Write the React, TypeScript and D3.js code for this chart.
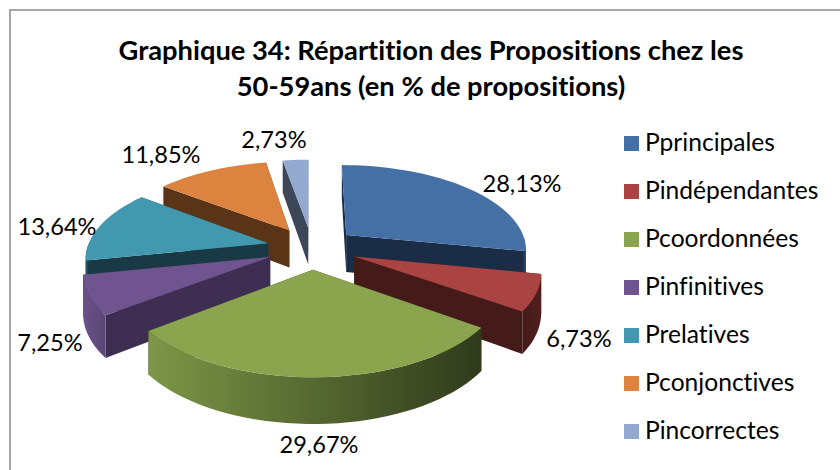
import React from "react";
import * as d3 from "d3";

const categories = ["Pprincipales","Pindépendantes","Pcoordonnées","Pinfinitives","Prelatives","Pconjonctives","Pincorrectes"];
const values = [28.13,6.73,29.67,7.25,13.64,11.85,2.73];
const titleLines = ["Graphique 34: Répartition des Propositions chez les","50-59ans (en % de propositions)"];

const topColors = ["#4470a6","#a94442","#8aa54d","#6f548f","#4298af","#dc8340","#93a9cf"];
const faceColors = ["#1b2d46","#451b1a","#35401e","#3e2f52","#193a45","#5a3417","#3c4759"];
const wallLeft = ["#2b4a70","#451b1a","#7d9647","#6a5288","#2a6272","#8a5226","#5d6c85"];
const wallRight = ["#1b2d46","#4f1f1d","#2f3a1b","#5a4675","#193a45","#5a3417","#3c4759"];
const labelAnchors: [number,number][] = [[522,192],[579,347],[319,453],[50,351],[57,235],[161,163],[274,148]];

const cx = 312, cy = 248, R = 181, A = 84, P = 0.15, EXPLODE = 0.25, H = 38, ROT = 0;

function project(X: number, Y: number, z: number): [number, number] {
  const f = 1 / (1 - P * Y);
  return [cx + R * X * f, cy + A * Y * f + z * H * f];
}

export default function App() {
  const arcs = d3.pie<number>().sort(null).startAngle(ROT).endAngle(ROT + 2 * Math.PI)(values);
  const line = d3.line();
  const slices = arcs.map((a, i) => {
    const mid = (a.startAngle + a.endAngle) / 2;
    const ox = EXPLODE * Math.sin(mid), oy = -EXPLODE * Math.cos(mid);
    const angles = d3.range(0, 41).map(k => a.startAngle + (a.endAngle - a.startAngle) * k / 40);
    const pts = angles.map(t => [ox + Math.sin(t), oy - Math.cos(t)] as [number, number]);
    const apexTop = project(ox, oy, 0), apexBot = project(ox, oy, 1);
    const topRim = pts.map(p => project(p[0], p[1], 0));
    const botRim = pts.map(p => project(p[0], p[1], 1));
    const front = d3.range(0, 41).filter(k => Math.cos(angles[k]) <= 0);
    return { i, oy, apexTop, apexBot, topRim, botRim, front };
  });
  const order = [...slices].sort((a, b) => d3.ascending(a.oy, b.oy));
  return (
    <svg width={840} height={470} style={{ position: "absolute", left: 0, top: 0, background: "#fff", fontVariantLigatures: "none" }} fontFamily="Lato, Carlito, sans-serif">
      <defs>
        {slices.map(s => (
          <linearGradient key={s.i} id={`wall${s.i}`} x1="0" x2="1" y1="0" y2="0">
            <stop offset="0" stopColor={wallLeft[s.i]} />
            <stop offset="1" stopColor={wallRight[s.i]} />
          </linearGradient>
        ))}
      </defs>
      <rect x={10} y={10} width={840} height={500} fill="#fff" stroke="#a6a6a6" strokeWidth={2} />
      {titleLines.map((t, i) => (
        <text key={i} x={431} y={60 + i * 36} textAnchor="middle" fontSize={27.3} fontWeight={700} fill="#000">{t}</text>
      ))}
      {order.map(s => {
        const { i } = s;
        const faceA = [s.apexTop, s.topRim[0], s.botRim[0], s.apexBot] as [number, number][];
        const faceB = [s.apexTop, s.topRim[40], s.botRim[40], s.apexBot] as [number, number][];
        const wall = [...s.front.map(k => s.topRim[k]), ...[...s.front].reverse().map(k => s.botRim[k])];
        const top = [s.apexTop, ...s.topRim];
        return (
          <g key={i}>
            <path d={line(faceA)! + "Z"} fill={faceColors[i]} />
            <path d={line(faceB)! + "Z"} fill={faceColors[i]} />
            {s.front.length > 1 && <path d={line(wall)! + "Z"} fill={`url(#wall${i})`} />}
            <path d={line(top)! + "Z"} fill={topColors[i]} />
          </g>
        );
      })}
      {values.map((v, i) => (
        <text key={i} x={labelAnchors[i][0]} y={labelAnchors[i][1]} textAnchor="middle" fontSize={23.6} fill="#000">
          {v.toFixed(2).replace(".", ",") + "%"}
        </text>
      ))}
      {categories.map((c, i) => (
        <g key={c}>
          <rect x={624} y={136 + i * 48} width={15} height={15} fill={topColors[i]} />
          <text x={645} y={151 + i * 48} fontSize={24.6} fill="#000">{c}</text>
        </g>
      ))}
    </svg>
  );
}
